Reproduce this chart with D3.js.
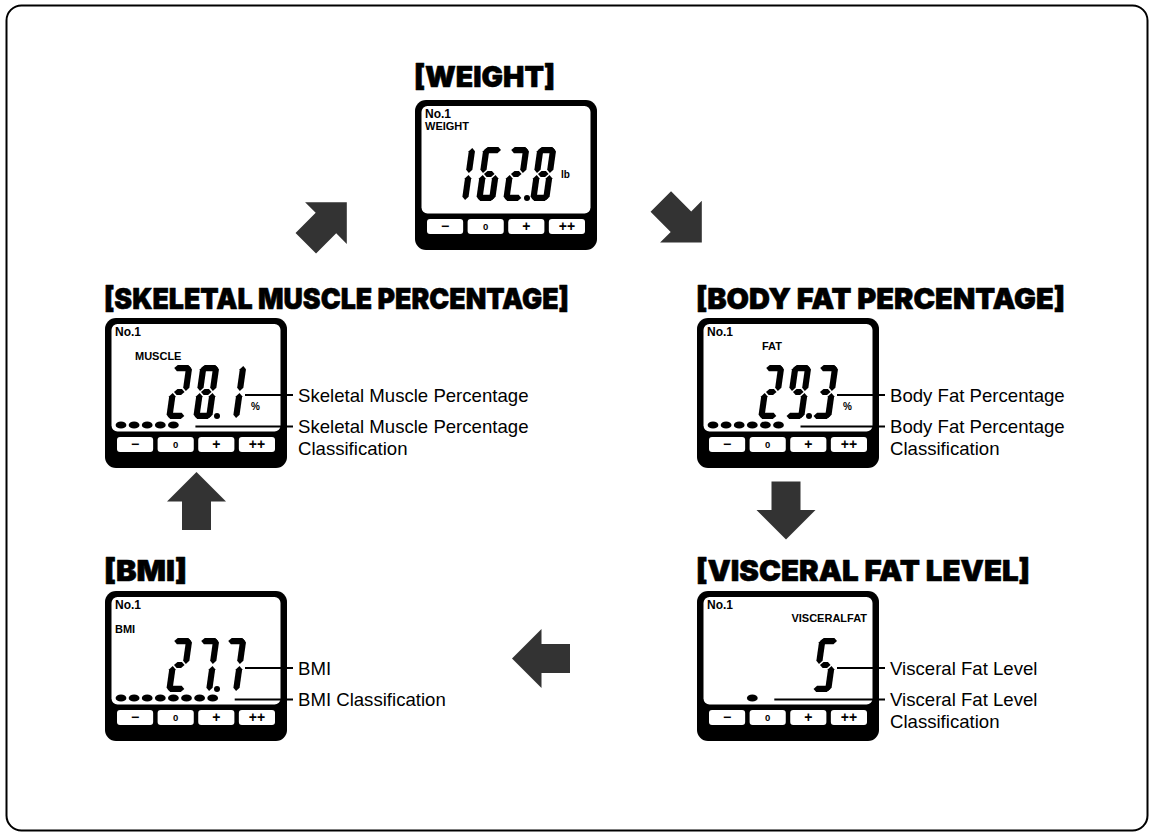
<!doctype html>
<html lang="en">
<head>
<meta charset="utf-8">
<title>Display cycle</title>
<script src="https://cdn.jsdelivr.net/npm/d3@7"></script>
<style>
  body { margin: 0; background: #fff; }
  svg { display: block; }
  .title { font-family: "Arial Black", Inter, Roboto, "DejaVu Sans", sans-serif; font-weight: 900; font-size: 29px;
           stroke: #000; stroke-width: 0.6px; stroke-linejoin: round; }
  .lcd { font-family: "Liberation Sans", Arial, sans-serif; font-weight: bold; font-size: 11px; }
  .unit { font-family: "Liberation Sans", Arial, sans-serif; font-weight: bold; font-size: 10px; }
  .note { font-family: "Liberation Sans", Arial, sans-serif; font-size: 18.6px; }
</style>
</head>
<body>
<script>
// screens shown in cycle order
const titles = ["[WEIGHT]", "[BODY FAT PERCENTAGE]", "[VISCERAL FAT LEVEL]", "[BMI]", "[SKELETAL MUSCLE PERCENTAGE]"];
const screenLabels = ["WEIGHT", "FAT", "VISCERALFAT", "BMI", "MUSCLE"];
const readings = ["162.8", "29.3", "5", "27.7", "28.1"];
const units = ["lb", "%", "", "", "%"];
const dotStart = [0, 0, 3, 0, 0];
const dotCount = [0, 6, 1, 8, 5];
const valueNotes = ["", "Body Fat Percentage", "Visceral Fat Level", "BMI", "Skeletal Muscle Percentage"];
const classNotes = [[], ["Body Fat Percentage", "Classification"], ["Visceral Fat Level", "Classification"],
                    ["BMI Classification"], ["Skeletal Muscle Percentage", "Classification"]];
const buttonLabels = ["\u2212", "0", "+", "++"];

// layout
const W = 1150, H = 836;
const layout = [
  {x: 415, y: 100, ty: 87, tw: 143, lab: [10, 30], unitY: 78},
  {x: 697, y: 318, ty: 309, tw: 371, lab: [65, 32], unitY: 92},
  {x: 697, y: 591, ty: 581, tw: 336, lab: [170, 31], unitY: 92, right: true},
  {x: 105, y: 591, ty: 581, tw: 85, lab: [10, 42], unitY: 92},
  {x: 105, y: 318, ty: 309, tw: 467, lab: [30, 42], unitY: 92}
];
const arrows = [
  {cx: 326.3, cy: 222.7, a: -45},
  {cx: 681.3, cy: 222, a: 45},
  {cx: 786, cy: 510.5, a: 90},
  {cx: 541, cy: 658.5, a: 180},
  {cx: 196.5, cy: 501, a: -90}
];

const svg = d3.select("body").append("svg")
    .attr("width", W).attr("height", H);

svg.append("rect")
    .attr("x", 6.5).attr("y", 5.5)
    .attr("width", 1141).attr("height", 825)
    .attr("rx", 15)
    .attr("fill", "#fff").attr("stroke", "#000").attr("stroke-width", 2);

// seven segment digits
const SEG = {0: "abcdef", 1: "bc", 2: "abdeg", 3: "abcdg", 4: "bcfg", 5: "acdfg",
             6: "acdefg", 7: "abc", 8: "abcdefg", 9: "abcdfg"};
const dw = 19, dh = 54, th = 6.2, gp = 1.1, slant = 0.14;
const digitTop = 47;
const slots = [34, 61, 88, 115];

function segPoints(s) {
  const hz = (yc, x1, x2) => [[x1, yc], [x1 + th / 2, yc - th / 2], [x2 - th / 2, yc - th / 2],
                               [x2, yc], [x2 - th / 2, yc + th / 2], [x1 + th / 2, yc + th / 2]];
  const vt = (xc, y1, y2) => [[xc, y1], [xc + th / 2, y1 + th / 2], [xc + th / 2, y2 - th / 2],
                               [xc, y2], [xc - th / 2, y2 - th / 2], [xc - th / 2, y1 + th / 2]];
  const m = dh / 2;
  const p = {
    a: hz(th / 2, gp, dw - gp),
    g: hz(m, th / 2 + gp, dw - th / 2 - gp),
    d: hz(dh - th / 2, gp, dw - gp),
    f: vt(th / 2, gp, m - gp),
    b: vt(dw - th / 2, gp, m - gp),
    e: vt(th / 2, m + gp, dh - gp),
    c: vt(dw - th / 2, m + gp, dh - gp)
  }[s];
  return p.map(([x, y]) => [x + (dh - y) * slant, y]);
}
const segLine = d3.line().curve(d3.curveLinearClosed);

// block arrow pointing right, centred on 0,0
const arrowPts = [[-29, -14.5], [-0.5, -14.5], [-0.5, -29.5], [29, 0], [-0.5, 29.5], [-0.5, 14.5], [-29, 14.5]];

svg.selectAll("path.arrow")
  .data(arrows)
  .join("path")
    .attr("class", "arrow")
    .attr("d", segLine(arrowPts))
    .attr("transform", d => `translate(${d.cx},${d.cy}) rotate(${d.a})`)
    .attr("fill", "#333");

const btn = d3.scaleBand().domain(buttonLabels).range([12, 170]).paddingInner(0.11);
const dotX = i => 16 + i * 13.1;

const panels = svg.selectAll("g.panel")
  .data(titles.map((t, i) => ({i, t, L: layout[i]})))
  .join("g")
    .attr("class", "panel");

panels.append("text")
    .attr("class", "title")
    .attr("x", d => d.L.x - 1).attr("y", d => d.L.ty)
    .attr("textLength", d => d.L.tw - 2)
    .attr("lengthAdjust", "spacingAndGlyphs")
    .text(d => d.t);

const box = panels.append("g")
    .attr("transform", d => `translate(${d.L.x},${d.L.y})`);

box.append("rect")
    .attr("width", 182).attr("height", 150).attr("rx", 11)
    .attr("fill", "#000");
box.append("rect")
    .attr("x", 6.5).attr("y", 6).attr("width", 169).attr("height", 107.5).attr("rx", 6)
    .attr("fill", "#fff");

box.selectAll("rect.btn")
  .data(buttonLabels)
  .join("rect")
    .attr("class", "btn")
    .attr("x", d => btn(d)).attr("y", 119)
    .attr("width", btn.bandwidth()).attr("height", 15).attr("rx", 3)
    .attr("fill", "#fff");
box.selectAll("text.btnlab")
  .data(buttonLabels)
  .join("text")
    .attr("class", "lcd")
    .attr("x", d => btn(d) + btn.bandwidth() / 2).attr("y", d => d === "0" ? 130 : 131)
    .attr("text-anchor", "middle")
    .style("font-size", d => d === "0" ? "9.5px" : "14px")
    .text(d => d);

box.append("text")
    .attr("class", "lcd")
    .attr("x", 10).attr("y", 18)
    .style("font-size", "12px")
    .text("No.1");
box.append("text")
    .attr("class", "lcd")
    .attr("x", d => d.L.lab[0]).attr("y", d => d.L.lab[1])
    .attr("text-anchor", d => d.L.right ? "end" : "start")
    .text(d => screenLabels[d.i]);

// digits, right aligned into slots
box.each(function(d) {
  const g = d3.select(this);
  const ds = readings[d.i].replace(".", "").split("");
  ds.forEach((ch, k) => {
    const slot = slots[slots.length - ds.length + k];
    SEG[ch].split("").forEach(s => {
      g.append("path")
        .attr("d", segLine(segPoints(s)))
        .attr("transform", `translate(${slot},${digitTop})`)
        .attr("fill", "#000");
    });
  });
  if (readings[d.i].includes(".")) {
    g.append("circle").attr("cx", 112).attr("cy", 98).attr("r", 3).attr("fill", "#000");
  }
  if (units[d.i]) {
    g.append("text").attr("class", "unit")
      .attr("x", 146).attr("y", d.L.unitY)
      .text(units[d.i]);
  }
  for (let j = 0; j < dotCount[d.i]; j++) {
    g.append("ellipse")
      .attr("cx", dotX(dotStart[d.i] + j)).attr("cy", 107)
      .attr("rx", 5.4).attr("ry", 3.6)
      .attr("fill", "#000");
  }
  if (valueNotes[d.i]) {
    g.append("line")
      .attr("x1", 140).attr("x2", 188).attr("y1", 77).attr("y2", 77)
      .attr("stroke", "#000").attr("stroke-width", 2);
    g.append("text").attr("class", "note")
      .attr("x", 193).attr("y", 77 + 6.5)
      .text(valueNotes[d.i]);
    const lx = dotX(dotStart[d.i] + dotCount[d.i] - 1) + 6 + 16;
    g.append("line")
      .attr("x1", lx).attr("x2", 188).attr("y1", 108.5).attr("y2", 108.5)
      .attr("stroke", "#000").attr("stroke-width", 2);
    g.append("text").attr("class", "note")
      .selectAll("tspan")
      .data(classNotes[d.i])
      .join("tspan")
        .attr("x", 193)
        .attr("y", (t, k) => 108.5 + 6.5 + k * 22)
        .text(t => t);
  }
});
</script>
</body>
</html>
